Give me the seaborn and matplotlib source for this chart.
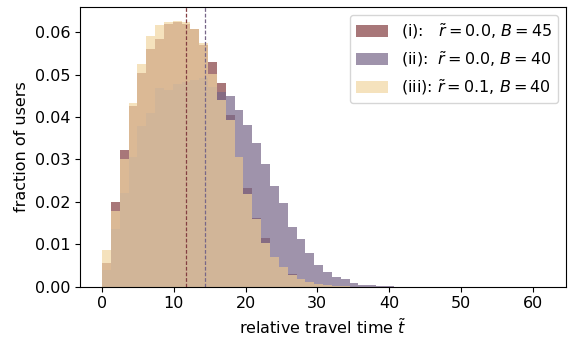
import numpy as np
import pandas as pd
import matplotlib
matplotlib.use("Agg")
import matplotlib.pyplot as plt
import seaborn as sns

# histogram bins (density, common edges)
n_bins = 50
t_max = 61.6

# (i): r~=0.0, B=45
frac_i = [0.0057, 0.0199, 0.0322, 0.0426, 0.0504, 0.0560, 0.0585, 0.0619, 0.0624, 0.0620,
          0.0607, 0.0570, 0.0530, 0.0481, 0.0405, 0.0306, 0.0232, 0.0162, 0.0115, 0.0071,
          0.0047, 0.0029, 0.0017, 0.0011, 0.0006, 0.0003, 0.0002, 0.0001]
# (ii): r~=0.0, B=40
frac_ii = [0.0039, 0.0135, 0.0222, 0.0306, 0.0379, 0.0409, 0.0469, 0.0463, 0.0477, 0.0483,
           0.0487, 0.0491, 0.0470, 0.0460, 0.0450, 0.0416, 0.0381, 0.0339, 0.0289, 0.0237,
           0.0197, 0.0141, 0.0112, 0.0080, 0.0051, 0.0034, 0.0024, 0.0017, 0.0009, 0.0005,
           0.0003, 0.0002, 0.0001]
# (iii): r~=0.1, B=40
frac_iii = [0.0086, 0.0178, 0.0302, 0.0433, 0.0525, 0.0591, 0.0616, 0.0625, 0.0627, 0.0624,
            0.0607, 0.0575, 0.0501, 0.0440, 0.0393, 0.0306, 0.0218, 0.0160, 0.0102, 0.0069,
            0.0046, 0.0028, 0.0017, 0.0012, 0.0006, 0.0003, 0.0002, 0.0001]

labels = [r"(i):   $\tilde{r}=0.0$, $B=45$",
          r"(ii):  $\tilde{r}=0.0$, $B=40$",
          r"(iii): $\tilde{r}=0.1$, $B=40$"]
colors = ["#833e41", "#776688", "#f2d6a2"]
mean_times = [11.7, 14.4]   # dashed lines for (i) and (ii)

sns.set_style("ticks", rc={"text.color": "black", "axes.labelcolor": "black",
                           "xtick.color": "black", "ytick.color": "black",
                           "axes.edgecolor": "black"})
plt.rcParams["font.family"] = ["DejaVu Sans"]

fig = plt.figure(figsize=(5.86, 3.52), dpi=100)
ax = fig.add_axes([0.1365, 0.1855, 0.8295, 0.7955])

edges = np.linspace(0, t_max, n_bins + 1)
centers = (edges[:-1] + edges[1:]) / 2
for vals, lab, col in zip([frac_i, frac_ii, frac_iii], labels, colors):
    w = np.zeros(len(centers))
    w[:len(vals)] = vals
    df = pd.DataFrame({"t": centers, "w": w})
    sns.histplot(data=df, x="t", weights="w", bins=n_bins, binrange=(0, t_max),
                 stat="count", color=col, alpha=0.7, linewidth=0, label=lab, ax=ax)

for m, col in zip(mean_times, colors[:2]):
    ax.axvline(m, color=col, linestyle=(0, (3, 1.5)), linewidth=0.9)

ax.set_ylim(0, 0.066)
ax.set_xticks(range(0, 61, 10))
ax.set_yticks(np.arange(0, 0.061, 0.01))
ax.yaxis.set_major_formatter(matplotlib.ticker.FormatStrFormatter("%.2f"))
ax.tick_params(labelsize=11.5)
ax.set_xlabel(r"relative travel time $\tilde{t}$", fontsize=11.5)
ax.set_ylabel("fraction of users", fontsize=11.5)
ax.legend(loc="upper right", fontsize=11.5)

fig.savefig("out.png", dpi=100)
